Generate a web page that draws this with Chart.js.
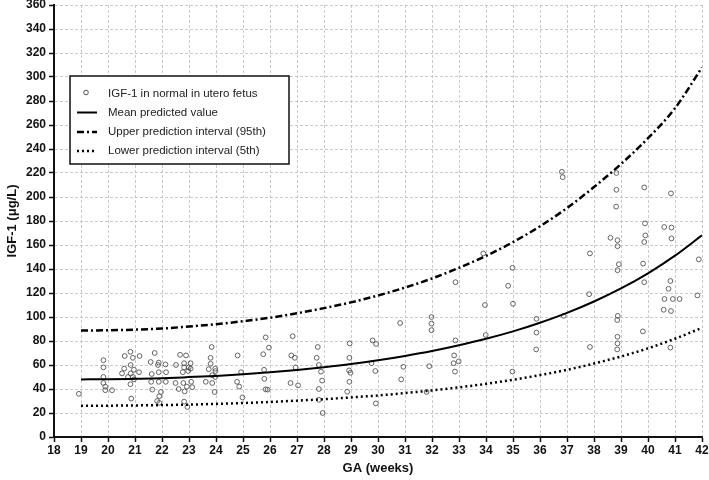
<!DOCTYPE html>
<html>
<head>
<meta charset="utf-8">
<script src="https://cdn.jsdelivr.net/npm/chart.js@4/dist/chart.umd.min.js"></script>
<style>
html,body{margin:0;padding:0;background:#fff;}
#wrap{width:709px;height:480px;position:relative;}
</style>
</head>
<body>
<div id="wrap"><canvas id="c" width="709" height="480"></canvas></div>
<script>
// ---- Data ----
const curveWeeks = [19,20,21,22,23,24,25,26,27,28,29,30,31,32,33,34,35,36,37,38,39,40,41,42];
const meanPredicted = [48.0,48.1,48.5,49.0,49.9,50.9,52.3,53.9,55.9,58.2,60.8,63.9,67.5,71.6,76.4,81.8,88.0,95.2,103.4,112.9,123.8,136.4,151.1,168.1];
const upper95 = [88.8,88.9,89.5,90.4,92.1,93.9,96.5,99.4,103.1,107.4,112.2,117.9,124.5,132.1,141.0,150.9,162.4,175.6,190.8,208.3,227.5,249.0,274.0,308.0];
const lower5 = [26.0,26.1,26.3,26.6,27.0,27.6,28.3,29.2,30.3,31.5,33.0,34.6,36.6,38.8,41.4,44.3,47.7,51.6,56.0,61.2,67.1,73.9,81.9,91.0];

const sampleGA = [18.92,19.83,19.83,19.83,19.83,19.9,19.9,20.15,20.62,20.83,20.92,21.17,20.6,20.52,20.84,20.84,20.96,20.74,20.92,21.15,20.83,20.86,20.96,
21.58,21.73,21.88,21.85,22.13,21.62,21.88,22.15,21.6,21.88,22.14,21.64,21.96,21.9,21.82,21.9,
22.67,22.89,22.52,22.82,22.82,23.06,22.99,23.06,22.77,22.97,22.5,22.79,23.08,22.62,22.84,23.12,22.92,22.82,22.94,
23.62,23.84,23.8,23.8,23.73,23.97,23.98,23.86,23.97,23.86,23.95,
24.8,24.93,24.78,24.86,24.98,
25.84,25.96,25.75,25.78,25.79,25.84,25.91,
26.84,26.79,26.92,26.95,26.76,27.04,
27.77,27.73,27.81,27.89,27.93,27.81,27.81,27.95,
28.95,28.94,28.93,28.98,28.94,28.86,
29.8,29.93,29.76,29.9,29.92,
30.82,30.94,30.86,
31.98,31.98,31.98,31.9,31.8,
32.87,32.87,32.82,32.8,32.99,32.85,
33.9,33.96,33.99,
34.98,34.82,35.0,34.98,
35.87,35.87,35.86,
36.81,36.84,36.88,
37.85,37.82,37.85,
38.83,38.83,38.82,38.61,38.87,38.87,38.92,38.87,38.88,38.86,38.87,38.87,38.86,
39.86,39.89,39.9,39.86,39.82,39.86,39.81,
40.85,40.6,40.87,40.87,40.83,40.76,40.61,40.92,41.17,40.58,40.85,40.83,
41.88,41.83];
const sampleIGF = [36,64,58,50,45,42,39,39,67.5,71,66,67.5,57,53,60,53,56,50,50,54,44,32,48,
62.5,70,62,60,60.5,52.5,54,54,46,46,46,39.5,37.5,34,30,28.5,
68.5,68,60,61.5,58,61.5,58,57,54,55,45,45,46,40,38,41.5,42,29.5,25,
46,75,66,61,56.5,57,55,51.5,50,45,37.5,
68,54,46,42,33,
83,74.5,69,56,48.5,39.7,39.5,
84,68,66,58,45,43,
75,66,60,54.5,47,40,31,20,
78,66,55.5,53.5,46,37.7,
80.5,77.5,61.5,55,28,
95,58.5,48,
100,94.5,89,59,37.5,
129,80.5,68,61.5,63,54.5,
153,110,85,
141,126,111,54.5,
98.5,87,73,
221,216.5,101,
153,119,75,
220,206,192,166,164,159,144,139,101,97.5,83.5,78,73,
208,178,168,162.5,144.5,129,88,
203,175,174.5,165.5,130,123.5,115,115,115,106,105,74.5,
148,118];

const xTicksMin = 18, xTicksMax = 42, yTicksMin = 0, yTicksMax = 360;
const xTitle = 'GA (weeks)';
const yTitle = 'IGF-1 (\u03bcg/L)';
const seriesNames = ['IGF-1 in normal in utero fetus','Mean predicted value','Upper prediction interval (95th)','Lower prediction interval (5th)'];

const FONT = '"Liberation Sans", Arial, Helvetica, sans-serif';

const toXY = (xs, ys) => xs.map((x, i) => ({x: x, y: ys[i]}));

const legendBox = {
  id: 'legendBox',
  afterDraw(chart) {
    const ctx = chart.ctx;
    const x0 = 70, y0 = 76, w = 219, h = 88;
    ctx.save();
    ctx.fillStyle = '#fff';
    ctx.fillRect(x0, y0, w, h);
    ctx.strokeStyle = '#111';
    ctx.lineWidth = 1.5;
    ctx.setLineDash([]);
    ctx.strokeRect(x0, y0, w, h);
    const rows = [93.5, 112.5, 132, 151];
    const ds = chart.data.datasets;
    ctx.font = '11.5px ' + FONT;
    ctx.textBaseline = 'middle';
    ctx.textAlign = 'left';
    rows.forEach((ry, i) => {
      const d = ds[i];
      if (i === 0) {
        ctx.beginPath();
        ctx.arc(86, ry - 1, 2.3, 0, Math.PI * 2);
        ctx.strokeStyle = d.borderColor;
        ctx.lineWidth = 1;
        ctx.stroke();
      } else {
        ctx.beginPath();
        ctx.setLineDash(d.borderDash || []);
        ctx.strokeStyle = d.borderColor;
        ctx.lineWidth = d.borderWidth;
        ctx.moveTo(77, ry);
        ctx.lineTo(97, ry);
        ctx.stroke();
        ctx.setLineDash([]);
      }
      ctx.fillStyle = '#222';
      ctx.fillText(seriesNames[i], 108, ry);
    });
    ctx.restore();
  }
};

new Chart(document.getElementById('c'), {
  type: 'scatter',
  data: {
    datasets: [
      {
        label: seriesNames[0],
        data: toXY(sampleGA, sampleIGF),
        showLine: false,
        pointRadius: 2.4,
        pointBorderWidth: 0.9,
        pointBackgroundColor: 'rgba(255,255,255,0)',
        borderColor: '#555',
        pointBorderColor: '#555',
        order: 4
      },
      {
        label: seriesNames[1],
        data: toXY(curveWeeks, meanPredicted),
        showLine: true,
        pointRadius: 0,
        borderColor: '#000',
        borderWidth: 2,
        cubicInterpolationMode: 'monotone',
        order: 1
      },
      {
        label: seriesNames[2],
        data: toXY(curveWeeks, upper95),
        showLine: true,
        pointRadius: 0,
        borderColor: '#000',
        borderWidth: 2.5,
        borderDash: [7, 3, 2, 3],
        cubicInterpolationMode: 'monotone',
        order: 2
      },
      {
        label: seriesNames[3],
        data: toXY(curveWeeks, lower5),
        showLine: true,
        pointRadius: 0,
        borderColor: '#000',
        borderWidth: 2.5,
        borderDash: [2, 3],
        cubicInterpolationMode: 'monotone',
        order: 3
      }
    ]
  },
  options: {
    responsive: false,
    animation: false,
    layout: { padding: { top: 5, right: 7, left: 0, bottom: 0 } },
    plugins: { legend: { display: false }, tooltip: { enabled: false } },
    scales: {
      x: {
        type: 'linear',
        min: xTicksMin, max: xTicksMax,
        ticks: { stepSize: 1, color: '#111', font: { family: FONT, size: 12, weight: 'bold' }, padding: 1, maxRotation: 0, autoSkip: false },
        grid: { color: '#bdbdbd', lineWidth: 0.8, tickColor: '#111', tickLength: 5, tickWidth: 1.5, tickBorderDash: [] },
        border: { display: true, color: '#111', width: 2, dash: [3, 2] },
        title: { display: true, text: xTitle, color: '#111', font: { family: FONT, size: 13, weight: 'bold' }, padding: { top: 3, bottom: 4 } },
        afterFit: (s) => { s.height = 43; s.paddingRight = 0; }
      },
      y: {
        type: 'linear',
        min: yTicksMin, max: yTicksMax,
        ticks: { stepSize: 20, color: '#111', font: { family: FONT, size: 12, weight: 'bold' }, padding: 3 },
        grid: { color: '#bdbdbd', lineWidth: 0.8, tickColor: '#111', tickLength: 5, tickWidth: 1.5, tickBorderDash: [] },
        border: { display: true, color: '#111', width: 2, dash: [3, 2] },
        title: { display: true, text: yTitle, color: '#111', font: { family: FONT, size: 13, weight: 'bold' }, padding: { top: 5, bottom: 4 } },
        afterFit: (s) => { s.width = 54; s.paddingTop = 0; s.paddingBottom = 0; }
      }
    }
  },
  plugins: [legendBox]
});
</script>
</body>
</html>
